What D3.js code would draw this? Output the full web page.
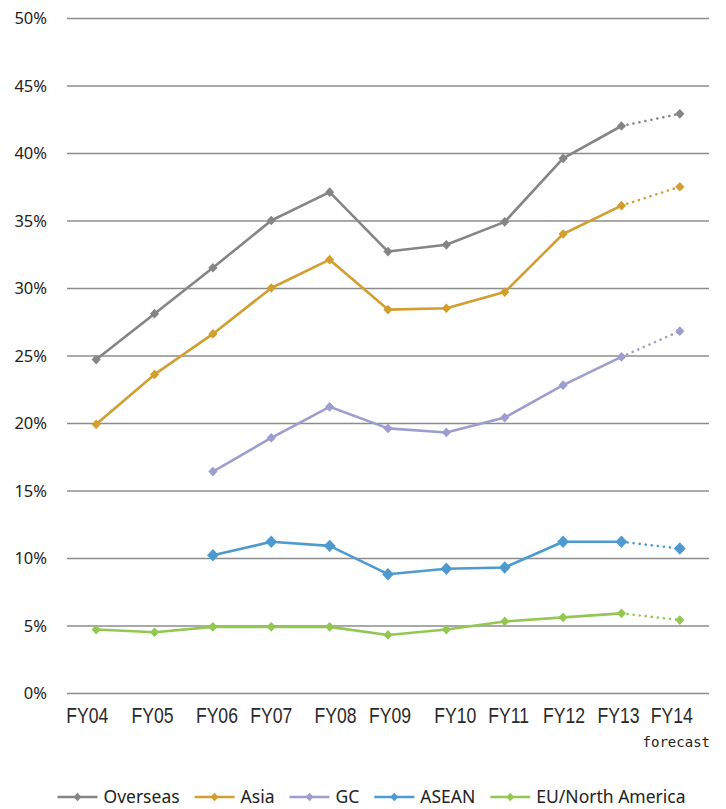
<!DOCTYPE html>
<html>
<head>
<meta charset="utf-8">
<script src="https://cdn.jsdelivr.net/npm/d3@7"></script>
<style>
  html, body { margin: 0; padding: 0; background: #fff; }
  svg { display: block; }
</style>
</head>
<body>
<svg id="chart" width="726" height="809"></svg>
<script>
// ---------- data ----------
const categories = ["FY04","FY05","FY06","FY07","FY08","FY09","FY10","FY11","FY12","FY13","FY14"];
const yTicks = [0, 0.05, 0.10, 0.15, 0.20, 0.25, 0.30, 0.35, 0.40, 0.45, 0.50];
const seriesNames = ["Overseas", "Asia", "GC", "ASEAN", "EU/North America"];
const overseas = [24.7, 28.1, 31.5, 35.0, 37.1, 32.7, 33.2, 34.9, 39.6, 42.0, 42.9];
const asia     = [19.9, 23.6, 26.6, 30.0, 32.1, 28.4, 28.5, 29.7, 34.0, 36.1, 37.5];
const gc       = [null, null, 16.4, 18.9, 21.2, 19.6, 19.3, 20.4, 22.8, 24.9, 26.8];
const asean    = [null, null, 10.2, 11.2, 10.9, 8.8, 9.2, 9.3, 11.2, 11.2, 10.7];
const euNA     = [4.7, 4.5, 4.9, 4.9, 4.9, 4.3, 4.7, 5.3, 5.6, 5.9, 5.4];
const forecastFrom = "FY13";   // dotted from this category onward
const forecastNote = "forecast";

// ---------- styles ----------
const colors = ["#858585", "#d19e30", "#9d9dd0", "#4d9ad0", "#92c852"];
const markerR = [4.6, 4.6, 4.6, 5.9, 4.6];
const seriesData = [overseas, asia, gc, asean, euNA];
// small horizontal nudges of the category labels (as in the original picture)
const labelNudge = [-9, -2, 4, 0, 6, 2, 9, 4, 1, -3, -8];

const svg = d3.select("#chart");
const pLeft = 67, pRight = 709, pTop = 18, pBottom = 693;

const x = d3.scaleBand().domain(categories).range([pLeft, pRight]).padding(0);
const cx = c => x(c) + x.bandwidth() / 2;
const y = d3.scaleLinear().domain([0, 0.5]).range([pBottom, pTop]);

// diamond symbol (rotated square)
const diamond = {
  draw(ctx, size) {
    const r = Math.sqrt(size) / 2;
    ctx.moveTo(0, -r * 1.05);
    ctx.lineTo(r, 0);
    ctx.lineTo(0, r * 1.05);
    ctx.lineTo(-r, 0);
    ctx.closePath();
  }
};

// ---------- y axis + gridlines ----------
const yAxis = d3.axisLeft(y)
  .tickValues(yTicks)
  .tickFormat(d3.format(".0%"))
  .tickSize(-(pRight - pLeft))
  .tickPadding(20);

const gy = svg.append("g")
  .attr("transform", `translate(${pLeft},0)`)
  .call(yAxis);
gy.select(".domain").remove();
gy.selectAll(".tick line")
  .attr("stroke", "#8c8c8c")
  .attr("stroke-width", 1.3);
gy.selectAll(".tick text")
  .attr("fill", "#222")
  .attr("font-family", "'Noto Sans', 'Open Sans', sans-serif")
  .attr("font-size", 16.5)
  .attr("dy", "0.36em");

// ---------- x axis labels ----------
const xAxis = d3.axisBottom(x).tickSize(0).tickPadding(0);
const gx = svg.append("g")
  .attr("transform", `translate(0,${pBottom})`)
  .call(xAxis);
gx.select(".domain").remove();
gx.selectAll(".tick text")
  .attr("fill", "#2a2a2a")
  .attr("font-family", "'Liberation Sans', Arial, sans-serif")
  .attr("font-size", 22)
  .attr("dy", null)
  .attr("y", 30)
  .attr("transform", (d, i) => `translate(${labelNudge[i]},0) scale(0.8,1)`);

svg.append("text")
  .attr("x", pRight + 1)
  .attr("y", 747)
  .attr("text-anchor", "end")
  .attr("font-family", "'DejaVu Sans Mono', 'Liberation Mono', monospace")
  .attr("font-size", 14)
  .attr("fill", "#222")
  .text(forecastNote);

// ---------- lines ----------
const fIdx = categories.indexOf(forecastFrom);
const line = d3.line()
  .defined(d => d.v != null)
  .x(d => cx(d.c))
  .y(d => y(d.v / 100));

seriesData.forEach((arr, si) => {
  const pts = arr.map((v, i) => ({ c: categories[i], v }));
  const solid = pts.slice(0, fIdx + 1);
  const dotted = pts.slice(fIdx);
  const g = svg.append("g");
  g.append("path")
    .attr("d", line(solid))
    .attr("fill", "none")
    .attr("stroke", colors[si])
    .attr("stroke-width", 2.6)
    .attr("stroke-linejoin", "round");
  g.append("path")
    .attr("d", line(dotted))
    .attr("fill", "none")
    .attr("stroke", colors[si])
    .attr("stroke-width", 2.6)
    .attr("stroke-linecap", "round")
    .attr("stroke-dasharray", "0.1,6");
  g.selectAll("path.m")
    .data(pts.filter(d => d.v != null))
    .join("path")
    .attr("class", "m")
    .attr("transform", d => `translate(${cx(d.c)},${y(d.v / 100)})`)
    .attr("d", d3.symbol(diamond, Math.pow(markerR[si] * 2, 2)))
    .attr("fill", colors[si]);
});

// ---------- legend ----------
const legend = svg.append("g");
let cursor = 0;
seriesNames.forEach((name, si) => {
  const it = legend.append("g");
  it.append("line")
    .attr("x1", 0).attr("x2", 40)
    .attr("stroke", colors[si]).attr("stroke-width", 2.6);
  it.append("path")
    .attr("transform", "translate(20,0)")
    .attr("d", d3.symbol(diamond, 64))
    .attr("fill", colors[si]);
  const t = it.append("text")
    .attr("x", 46)
    .attr("dy", "0.35em")
    .attr("font-family", "'Noto Sans', 'Open Sans', sans-serif")
    .attr("font-size", 17.5)
    .attr("fill", "#222")
    .text(name);
  const w = 46 + t.node().getComputedTextLength();
  it.attr("transform", `translate(${cursor},0)`);
  cursor += w + 15;
});
const total = cursor - 15;
legend.attr("transform", `translate(${371.5 - total / 2},797)`);
</script>
</body>
</html>
